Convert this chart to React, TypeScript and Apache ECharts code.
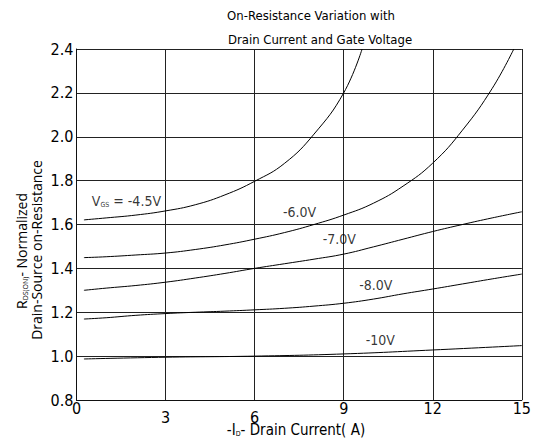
import React, { useEffect, useRef } from "react";
import * as echarts from "echarts";

// Data (x: -I_D in A, y: normalized R_DS(on))
const curve45: [number, number][] = [
  [0.25, 1.621], [1, 1.63], [2, 1.643], [3, 1.662], [4, 1.69], [5, 1.735],
  [6, 1.797], [7, 1.878], [8, 2.012], [9, 2.2], [9.62, 2.4],
];
const curve60: [number, number][] = [
  [0.25, 1.449], [1, 1.453], [2, 1.461], [3, 1.47], [4, 1.486], [5, 1.507],
  [6, 1.533], [7, 1.563], [8, 1.6], [9, 1.643], [10, 1.697], [11, 1.775],
  [12, 1.88], [13, 2.03], [14, 2.22], [14.73, 2.4],
];
const curve70: [number, number][] = [
  [0.25, 1.3], [1, 1.31], [2, 1.322], [3, 1.337], [4, 1.356], [5, 1.377],
  [6, 1.4], [7, 1.421], [8, 1.442], [9, 1.465], [10, 1.498], [11, 1.533],
  [12, 1.568], [13, 1.6], [14, 1.63], [15, 1.658],
];
const curve80: [number, number][] = [
  [0.25, 1.169], [1, 1.175], [2, 1.186], [3, 1.194], [4, 1.2], [5, 1.205],
  [6, 1.211], [7, 1.218], [8, 1.228], [9, 1.241], [10, 1.26], [11, 1.284],
  [12, 1.306], [13, 1.329], [14, 1.352], [15, 1.374],
];
const curve100: [number, number][] = [
  [0.25, 0.987], [3, 0.995], [6, 1.0], [9, 1.01], [12, 1.028], [15, 1.048],
];

const seriesNames = ["-4.5V", "-6.0V", "-7.0V", "-8.0V", "-10V"];
const curveLabels = ["{v|V}{sub|GS}{v| = -4.5V}", "-6.0V", "-7.0V", "-8.0V", "-10V"];
const labelPositions: [number, number][] = [
  [1.68, 1.705], [7.51, 1.656], [8.85, 1.534], [10.08, 1.323], [10.23, 1.073],
];

const xTicks = [0, 3, 6, 9, 12, 15];
const xLowTicks = [3, 6];

const NARROW = "'DejaVu Sans Condensed', 'Liberation Sans Narrow', sans-serif";
const SANS = "'Open Sans', 'Noto Sans', sans-serif";

export default function App() {
  const ref = useRef<HTMLDivElement>(null);
  useEffect(() => {
    if (!ref.current) return;
    const chart = echarts.init(ref.current, null, { renderer: "svg" });
    const curves = [curve45, curve60, curve70, curve80, curve100];
    const lineSeries = curves.map((c, i) => ({
      name: seriesNames[i],
      type: "line",
      data: c,
      smooth: 0.45,
      showSymbol: false,
      lineStyle: { color: "#000", width: 1 },
      z: 3,
    }));
    const labelSeries = {
      type: "scatter",
      symbolSize: 0,
      data: labelPositions.map((p, i) => ({ value: p, name: curveLabels[i] })),
      label: {
        show: true,
        position: "inside",
        formatter: (p: any) => p.name,
        color: "#000",
        fontFamily: NARROW,
        fontSize: 14,
        rich: {
          v: { fontFamily: NARROW, fontSize: 14, color: "#000" },
          sub: { fontFamily: NARROW, fontSize: 7, color: "#000", padding: [8, 0, 0, 0] },
        },
      },
      z: 4,
    };
    chart.setOption({
      animation: false,
      backgroundColor: "#fff",
      grid: { left: 76.5, right: 6, top: 49, bottom: 44, containLabel: false },
      xAxis: {
        type: "value",
        min: 0,
        max: 15,
        interval: 3,
        axisLine: { show: true, lineStyle: { color: "#111", width: 1 } },
        axisTick: { show: false },
        splitLine: { show: true, lineStyle: { color: "#222", width: 1 } },
        axisLabel: {
          margin: 0,
          formatter: (v: number) =>
            xTicks.includes(v) ? (xLowTicks.includes(v) ? `{lo|${v}}` : `{hi|${v}}`) : "",
          rich: {
            hi: { fontFamily: NARROW, fontSize: 16, color: "#000", padding: [0, 0, 0, 0] },
            lo: { fontFamily: NARROW, fontSize: 16, color: "#000", padding: [9, 0, 0, 0] },
          },
        },
      },
      yAxis: {
        type: "value",
        min: 0.8,
        max: 2.4,
        interval: 0.2,
        axisLine: { show: true, lineStyle: { color: "#111", width: 1 } },
        axisTick: { show: false },
        splitLine: { show: true, lineStyle: { color: "#222", width: 1 } },
        axisLabel: {
          margin: 3,
          fontFamily: NARROW,
          fontSize: 16,
          color: "#000",
          formatter: (v: number) => v.toFixed(1),
        },
      },
      graphic: [
        {
          type: "text",
          x: 311,
          y: 15,
          style: {
            text: "On-Resistance Variation with",
            font: `13px ${NARROW}`,
            fill: "#000",
            align: "center",
            verticalAlign: "middle",
          },
        },
        {
          type: "text",
          x: 320,
          y: 39,
          style: {
            text: "Drain Current and Gate Voltage",
            font: `13px ${NARROW}`,
            fill: "#000",
            align: "center",
            verticalAlign: "middle",
          },
        },
        {
          type: "text",
          x: 296,
          y: 430,
          style: {
            text: "{a|-I}{s|D}{a|- Drain Current( A)}",
            align: "center",
            verticalAlign: "middle",
            rich: {
              a: { font: `15px ${NARROW}`, fill: "#000" },
              s: { font: `7px ${NARROW}`, fill: "#000", padding: [8, 0, 0, 0] },
            },
          },
        },
        {
          type: "text",
          x: 21,
          y: 251,
          rotation: Math.PI / 2,
          style: {
            text: "{a|R}{s|DS(ON)}{a|- Normalized}",
            align: "center",
            verticalAlign: "middle",
            rich: {
              a: { font: `14px ${SANS}`, fill: "#000" },
              s: { font: `7px ${SANS}`, fill: "#000", padding: [8, 0, 0, 0] },
            },
          },
        },
        {
          type: "text",
          x: 36,
          y: 250,
          rotation: Math.PI / 2,
          style: {
            text: "Drain-Source on-Resistance",
            font: `14px ${SANS}`,
            fill: "#000",
            align: "center",
            verticalAlign: "middle",
          },
        },
      ],
      series: [...lineSeries, labelSeries],
    });
    return () => chart.dispose();
  }, []);
  return (
    <div
      ref={ref}
      style={{ position: "fixed", left: 0, top: 0, width: 534, height: 444, background: "#fff" }}
    />
  );
}
